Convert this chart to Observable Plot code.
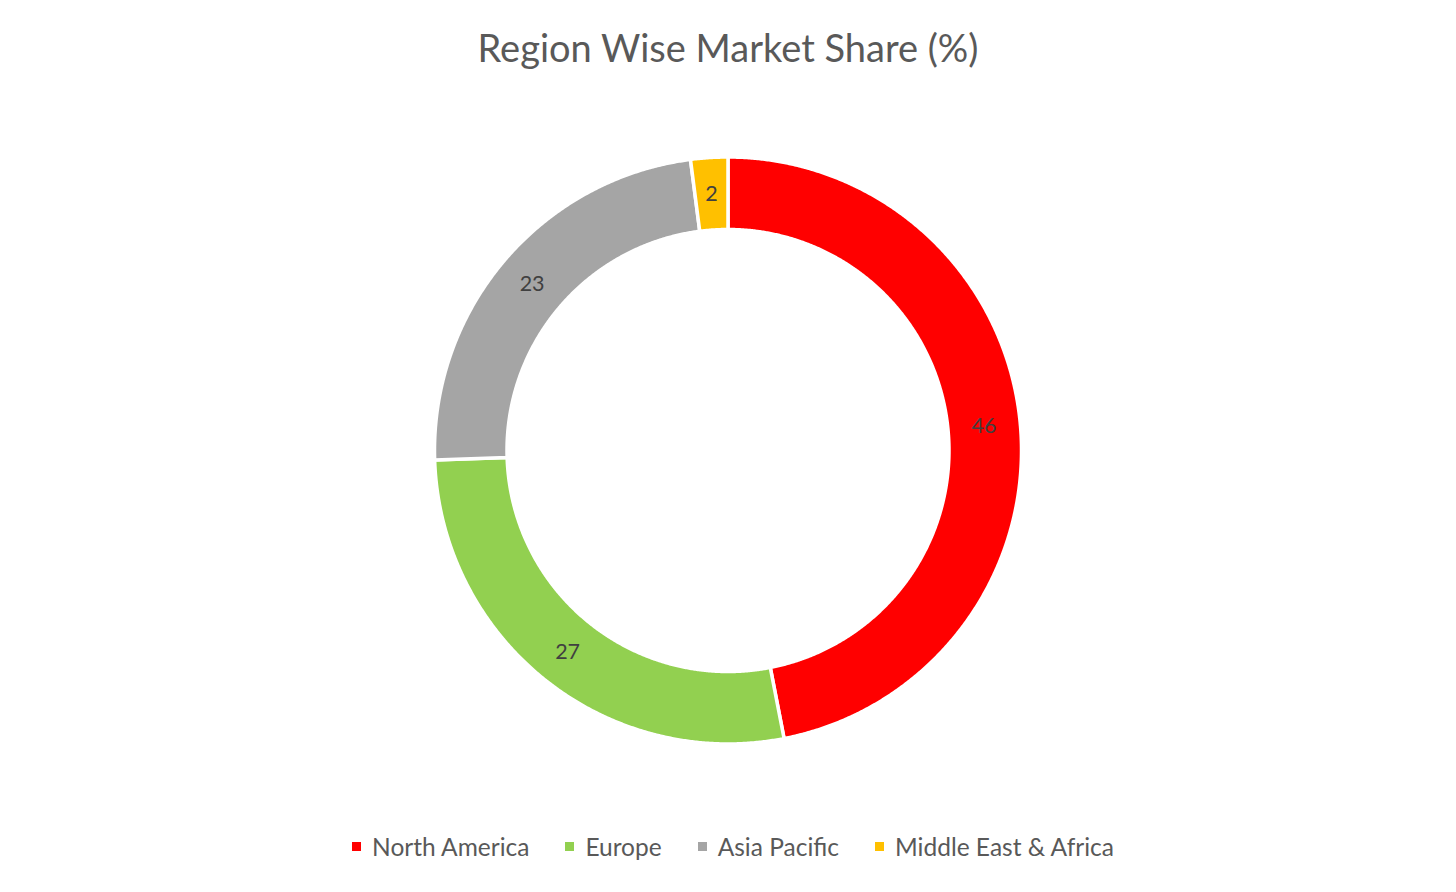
<!DOCTYPE html>
<html>
<head>
<meta charset="utf-8">
<script src="https://cdn.jsdelivr.net/npm/d3@7"></script>
<script src="https://cdn.jsdelivr.net/npm/@observablehq/plot@0.6"></script>
<style>
  html, body { margin: 0; padding: 0; background: #fff; }
  body { width: 1456px; height: 892px; overflow: hidden; font-family: Lato, "Open Sans", sans-serif; }
  #title { height: 100px; text-align: center; color: #595959; font-size: 38px; line-height: 94px; }
  #chart { height: 700px; }
  #legend { display: flex; justify-content: center; align-items: center; gap: 0; margin-top: 32px; padding-left: 10px; font-size: 24.5px; color: #595959; }
  .item { display: flex; align-items: center; margin: 0 18px; }
  .sw { width: 9px; height: 9px; margin-right: 11px; }
</style>
</head>
<body>
<div id="title">Region Wise Market Share (%)</div>
<div id="chart"></div>
<div id="legend"></div>
<script>
const regions = ["North America", "Europe", "Asia Pacific", "Middle East & Africa"];
const shares = [46, 27, 23, 2];
const colors = ["#FF0000", "#92D050", "#A5A5A5", "#FFC000"];

const W = 1456, H = 700, cx = 727.5, cy = 350, Rpx = 293.5;
const inner = 221 / 293.5;

const pie = d3.pie().sort(null).value(d => d.share)(regions.map((r, i) => ({region: r, share: shares[i]})));

const pts = [];
const labels = [];
for (const s of pie) {
  const a0 = s.startAngle, a1 = s.endAngle;
  const n = Math.max(4, Math.ceil((a1 - a0) / 0.005));
  for (let k = 0; k <= n; k++) {
    const a = a0 + (a1 - a0) * k / n;
    pts.push({region: s.data.region, x: Math.sin(a), y: Math.cos(a)});
  }
  for (let k = n; k >= 0; k--) {
    const a = a0 + (a1 - a0) * k / n;
    pts.push({region: s.data.region, x: inner * Math.sin(a), y: inner * Math.cos(a)});
  }
  const am = (a0 + a1) / 2, rm = (1 + inner) / 2;
  labels.push({region: s.data.region, share: s.data.share, x: rm * Math.sin(am), y: rm * Math.cos(am)});
}

const chart = Plot.plot({
  width: W, height: H,
  margin: 0,
  x: {domain: [-cx / Rpx, (W - cx) / Rpx], axis: null},
  y: {domain: [-(H - cy) / Rpx, cy / Rpx], axis: null},
  color: {domain: regions, range: colors},
  style: {fontFamily: "Lato, 'Open Sans', sans-serif", background: "#fff"},
  marks: [
    Plot.line(pts, {x: "x", y: "y", z: "region", fill: "region", stroke: "#fff", strokeWidth: 3.5, curve: "linear-closed"}),
    Plot.text(labels, {x: "x", y: "y", text: d => String(d.share), fill: "#404040", fontSize: 21.5})
  ]
});
document.getElementById("chart").appendChild(chart);

const leg = document.getElementById("legend");
regions.forEach((r, i) => {
  const it = document.createElement("div");
  it.className = "item";
  it.innerHTML = `<span class="sw" style="background:${colors[i]}"></span><span>${r}</span>`;
  leg.appendChild(it);
});
</script>
</body>
</html>
